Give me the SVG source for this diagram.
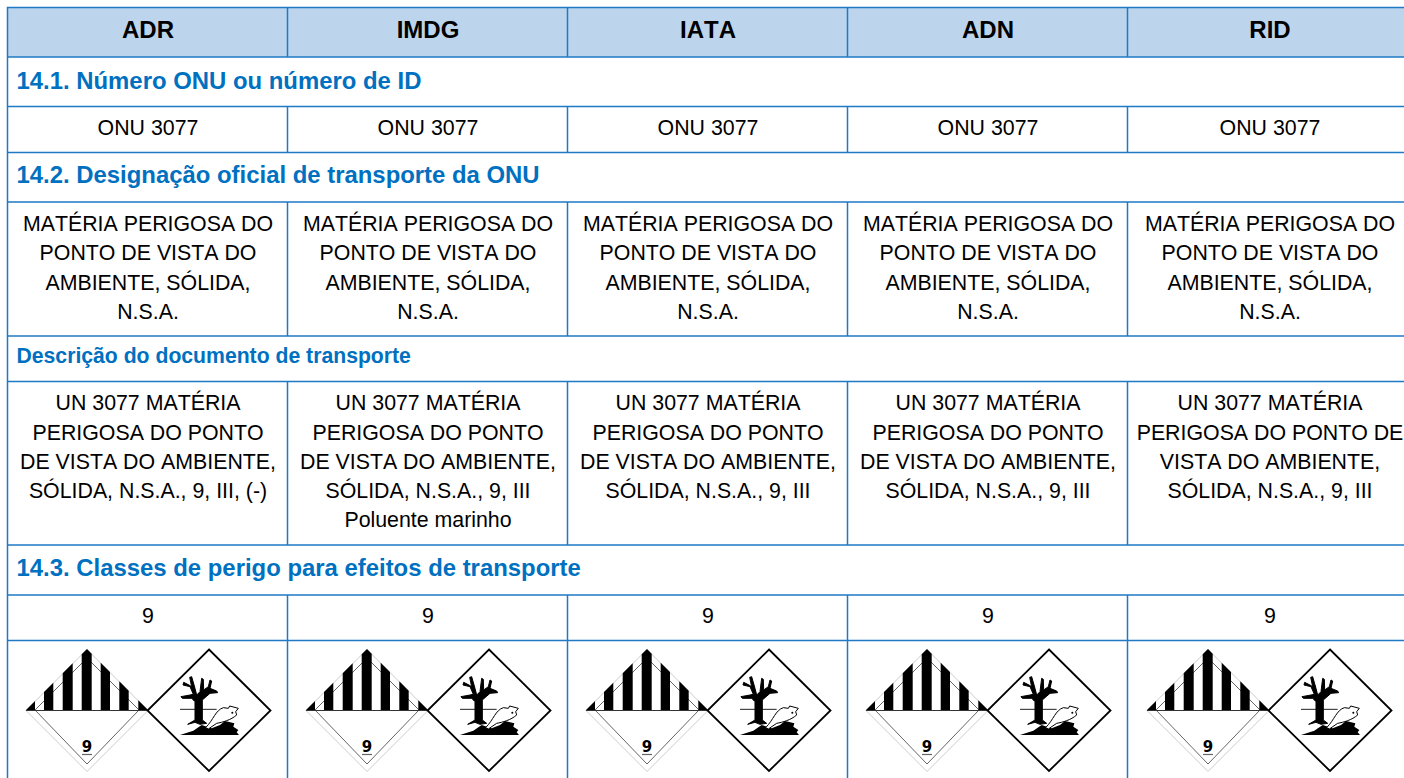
<svg xmlns="http://www.w3.org/2000/svg" width="1404" height="778" viewBox="0 0 1404 778">
<style>
text{font-family:"Liberation Sans",Arial,sans-serif;fill:#000;font-kerning:none}
.h{font-size:24px;font-weight:bold;text-anchor:middle}
.s{font-size:23.9px;font-weight:bold;fill:#0070c0}
.s2{font-size:21.2px;font-weight:bold;fill:#0070c0}
.c{font-size:21.33px;text-anchor:middle}
.g{stroke:#1f7ac6;stroke-width:1.500;fill:none}
</style>
<defs>
<g id="hz">
<path d="M0 61.500L61 0.500L122 61.500L61 122.500Z" fill="none" stroke="#ccc" stroke-width="1"/>
<path d="M9 61L61 9L113 61L61 115Z" fill="none" stroke="#666" stroke-width="1"/>
<path d="M0 61.500H122" stroke="#333" stroke-width="1.200"/>
<path d="M0 61L9 52V61ZM18 43L27.300 33.700V61H18ZM36.700 24.300L46.700 14.300V61H36.700ZM55.700 5.300L61 0L65.700 4.700V61H55.700ZM74.700 13.700L84 23V61H74.700ZM93.300 32.300L102.700 41.700V61H93.300ZM112.300 51.300L122 61H112.300Z" fill="#000"/>
<text x="61" y="102.500" font-size="15" font-weight="bold" text-anchor="middle" style="font-family:'DejaVu Sans',sans-serif">9</text>
<path d="M56 105.500H66" stroke="#666" stroke-width="1.200"/>
<path d="M183 0.500L244.500 61.500L183 122L121.500 61.500Z" fill="#fff" stroke="#000" stroke-width="1.800"/>
<g transform="translate(119 -4) scale(.33333)">
<path d="M105 193H150M172 193H215" stroke="#222" stroke-width="3" fill="none"/>
<path d="M128 238L150 225V170L140 160H112L108 155L135 150L145 148L135 125L114 120L116 112L132 120L140 125L134 97L140 95L150 130L155 150L165 140L170 100L175 103L176 135L190 125L195 105L200 108L195 130L215 138L218 143L195 145L172 165V225L185 235L165 238L150 232Z" fill="#000" stroke="#000" stroke-width="3"/>
<path d="M105 270L145 257L170 240L200 250L225 240L240 228L268 235L265 245L280 255L275 262L282 270Z" fill="#000"/>
<path d="M182 248C205 225 212 195 235 188L250 190L254 183L280 190L272 200L275 210C258 225 232 232 215 235L190 252Z" fill="#fff" stroke="#000" stroke-width="3"/>
<circle cx="262" cy="203" r="3" fill="#000"/>
</g>
</g>
</defs>
<rect x="8" y="8" width="1396" height="49" fill="#bdd5ec"/>
<g id="connectors" class="g">
<path d="M1404 7.500H7.500V778M1404 57H7.500M1404 106.500H7.500M1404 152.500H7.500M1404 202H7.500M1404 336H7.500M1404 381.500H7.500M1404 545H7.500M1404 595H7.500M1404 640.500H7.500"/>
<path d="M287.500 7.500V57M567.500 7.500V57M847.500 7.500V57M1127.500 7.500V57M287.500 106.500V152.500M567.500 106.500V152.500M847.500 106.500V152.500M1127.500 106.500V152.500M287.500 202V336M567.500 202V336M847.500 202V336M1127.500 202V336M287.500 381.500V545M567.500 381.500V545M847.500 381.500V545M1127.500 381.500V545M287.500 595V778M567.500 595V778M847.500 595V778M1127.500 595V778"/>
</g>
<g id="header">
<text class="h" x="148" y="38.300">ADR</text><text class="h" x="428" y="38.300">IMDG</text><text class="h" x="708" y="38.300">IATA</text><text class="h" x="988" y="38.300">ADN</text><text class="h" x="1270" y="38.300">RID</text>
</g>
<g id="sections">
<text class="s" x="16.500" y="88.500">14.1. Número ONU ou número de ID</text>
<text class="s" x="16.500" y="183.300">14.2. Designação oficial de transporte da ONU</text>
<text class="s2" x="16.500" y="363">Descrição do documento de transporte</text>
<text class="s" x="16.500" y="575.500">14.3. Classes de perigo para efeitos de transporte</text>
</g>
<g id="onu">
<text class="c" x="148" y="135">ONU 3077</text><text class="c" x="428" y="135">ONU 3077</text><text class="c" x="708" y="135">ONU 3077</text><text class="c" x="988" y="135">ONU 3077</text><text class="c" x="1270" y="135">ONU 3077</text>
</g>
<g id="designation">
<text class="c" x="148" y="231">MATÉRIA PERIGOSA DO</text><text class="c" x="148" y="260">PONTO DE VISTA DO</text><text class="c" x="148" y="289.500">AMBIENTE, SÓLIDA,</text><text class="c" x="148" y="319">N.S.A.</text>
<text class="c" x="428" y="231">MATÉRIA PERIGOSA DO</text><text class="c" x="428" y="260">PONTO DE VISTA DO</text><text class="c" x="428" y="289.500">AMBIENTE, SÓLIDA,</text><text class="c" x="428" y="319">N.S.A.</text>
<text class="c" x="708" y="231">MATÉRIA PERIGOSA DO</text><text class="c" x="708" y="260">PONTO DE VISTA DO</text><text class="c" x="708" y="289.500">AMBIENTE, SÓLIDA,</text><text class="c" x="708" y="319">N.S.A.</text>
<text class="c" x="988" y="231">MATÉRIA PERIGOSA DO</text><text class="c" x="988" y="260">PONTO DE VISTA DO</text><text class="c" x="988" y="289.500">AMBIENTE, SÓLIDA,</text><text class="c" x="988" y="319">N.S.A.</text>
<text class="c" x="1270" y="231">MATÉRIA PERIGOSA DO</text><text class="c" x="1270" y="260">PONTO DE VISTA DO</text><text class="c" x="1270" y="289.500">AMBIENTE, SÓLIDA,</text><text class="c" x="1270" y="319">N.S.A.</text>
</g>
<g id="description">
<text class="c" x="148" y="410">UN 3077 MATÉRIA</text><text class="c" x="148" y="439.500">PERIGOSA DO PONTO</text><text class="c" x="148" y="469">DE VISTA DO AMBIENTE,</text><text class="c" x="148" y="498">SÓLIDA, N.S.A., 9, III, (-)</text>
<text class="c" x="428" y="410">UN 3077 MATÉRIA</text><text class="c" x="428" y="439.500">PERIGOSA DO PONTO</text><text class="c" x="428" y="469">DE VISTA DO AMBIENTE,</text><text class="c" x="428" y="498">SÓLIDA, N.S.A., 9, III</text><text class="c" x="428" y="527">Poluente marinho</text>
<text class="c" x="708" y="410">UN 3077 MATÉRIA</text><text class="c" x="708" y="439.500">PERIGOSA DO PONTO</text><text class="c" x="708" y="469">DE VISTA DO AMBIENTE,</text><text class="c" x="708" y="498">SÓLIDA, N.S.A., 9, III</text>
<text class="c" x="988" y="410">UN 3077 MATÉRIA</text><text class="c" x="988" y="439.500">PERIGOSA DO PONTO</text><text class="c" x="988" y="469">DE VISTA DO AMBIENTE,</text><text class="c" x="988" y="498">SÓLIDA, N.S.A., 9, III</text>
<text class="c" x="1270" y="410">UN 3077 MATÉRIA</text><text class="c" x="1270" y="439.500">PERIGOSA DO PONTO DE</text><text class="c" x="1270" y="469">VISTA DO AMBIENTE,</text><text class="c" x="1270" y="498">SÓLIDA, N.S.A., 9, III</text>
</g>
<g id="classes">
<text class="c" x="148" y="623">9</text><text class="c" x="428" y="623">9</text><text class="c" x="708" y="623">9</text><text class="c" x="988" y="623">9</text><text class="c" x="1270" y="623">9</text>
</g>
<g id="labels">
<use href="#hz" x="26" y="649"/><use href="#hz" x="306" y="649"/><use href="#hz" x="586" y="649"/><use href="#hz" x="866" y="649"/><use href="#hz" x="1147" y="649"/>
</g>
</svg>
